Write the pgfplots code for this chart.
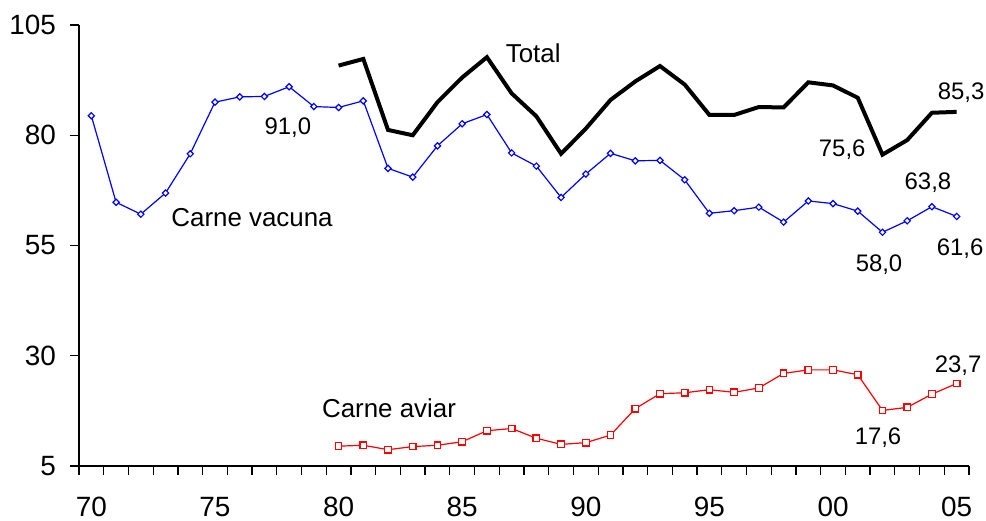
\documentclass[border=0pt]{standalone}
\usepackage{fontspec}
\setmainfont{Liberation Sans}
\usepackage{pgfplots}
\pgfplotsset{compat=1.18}
\begin{document}
\begin{tikzpicture}
\begin{axis}[
  width=890bp, height=441bp, scale only axis,
  xmin=69.5, xmax=105.5, ymin=5, ymax=105,
  axis x line=bottom, axis y line=left,
  axis line style={-, line width=1.3bp},
  clip=false,
  ytick={5,30,55,80,105},
  xtick={70,75,80,85,90,95,100,105},
  xticklabels={70,75,80,85,90,95,00,05},
  minor xtick={69.5,70.5,...,105.5},
  major x tick style={draw=none},
  minor x tick style={line width=1.3bp, black},
  minor tick length=9bp,
  major tick length=9bp,
  y tick style={line width=1.3bp, black},
  tick align=outside,
  tick pos=left,
  /pgf/number format/assume math mode=true,
  ticklabel style={font=\fontsize{28}{32}\selectfont},
  yticklabel style={inner sep=0pt, anchor=east, xshift=-14bp},
  xticklabel style={inner sep=0pt, anchor=north, yshift=-22bp},
]
\coordinate (O) at (rel axis cs:0,0);
% Carne vacuna
\addplot[blue, line width=1.2bp, mark=square*, mark size=2.2bp,
  mark options={fill=white, line width=1.2bp, rotate=45}] coordinates {
(70,84.4)(71,64.8)(72,62.1)(73,66.9)(74,75.8)(75,87.5)(76,88.7)(77,88.8)
(78,91.0)(79,86.5)(80,86.3)(81,87.8)(82,72.5)(83,70.5)(84,77.6)(85,82.6)
(86,84.7)(87,76.0)(88,73.0)(89,65.9)(90,71.2)(91,75.9)(92,74.2)(93,74.3)
(94,69.9)(95,62.3)(96,62.9)(97,63.7)(98,60.3)(99,65.1)(100,64.5)(101,62.8)
(102,58.0)(103,60.6)(104,63.8)(105,61.6)};
% Carne aviar
\addplot[red, line width=1.2bp, mark=square*, mark size=3.3bp,
  mark options={fill=white, line width=1.2bp}] coordinates {
(80,9.5)(81,9.7)(82,8.7)(83,9.4)(84,9.7)(85,10.5)(86,13.0)(87,13.5)
(88,11.3)(89,9.9)(90,10.3)(91,12.0)(92,18.0)(93,21.4)(94,21.6)(95,22.3)
(96,21.7)(97,22.7)(98,26.0)(99,26.8)(100,26.8)(101,25.7)(102,17.6)(103,18.3)
(104,21.3)(105,23.7)};
% Total
\addplot[black, line width=4bp, no markers] coordinates {
(80,95.8)(81,97.3)(82,81.2)(83,80.0)(84,87.5)(85,93.1)(86,97.7)(87,89.5)
(88,84.3)(89,75.8)(90,81.5)(91,88.0)(92,92.2)(93,95.7)(94,91.5)(95,84.6)
(96,84.6)(97,86.4)(98,86.3)(99,92.0)(100,91.3)(101,88.5)(102,75.6)(103,78.9)
(104,85.1)(105,85.3)};
\begin{scope}[every node/.style={inner sep=0pt, anchor=base}]
\node[font=\fontsize{26}{30}\selectfont] at (axis cs:87.87,96.4) {Total};
\node[font=\fontsize{26}{30}\selectfont] at (axis cs:76.5,59.2) {Carne vacuna};
\node[font=\fontsize{26}{30}\selectfont] at (axis cs:82.04,15.9) {Carne aviar};
\node[font=\fontsize{24}{28}\selectfont] at (axis cs:77.95,80.06) {91,0};
\node[font=\fontsize{24}{28}\selectfont] at (axis cs:105.18,88.0) {85,3};
\node[font=\fontsize{24}{28}\selectfont] at (axis cs:100.37,75.1) {75,6};
\node[font=\fontsize{24}{28}\selectfont] at (axis cs:103.84,67.6) {63,8};
\node[font=\fontsize{24}{28}\selectfont] at (axis cs:105.14,52.8) {61,6};
\node[font=\fontsize{24}{28}\selectfont] at (axis cs:101.86,49.0) {58,0};
\node[font=\fontsize{24}{28}\selectfont] at (axis cs:101.82,9.8) {17,6};
\node[font=\fontsize{24}{28}\selectfont] at (axis cs:105.06,26.3) {23,7};
\end{scope}
\end{axis}
\pgfresetboundingbox
\path[use as bounding box] (O) ++(-79bp,-55bp) rectangle ++(986bp,521bp);
\end{tikzpicture}
\end{document}
